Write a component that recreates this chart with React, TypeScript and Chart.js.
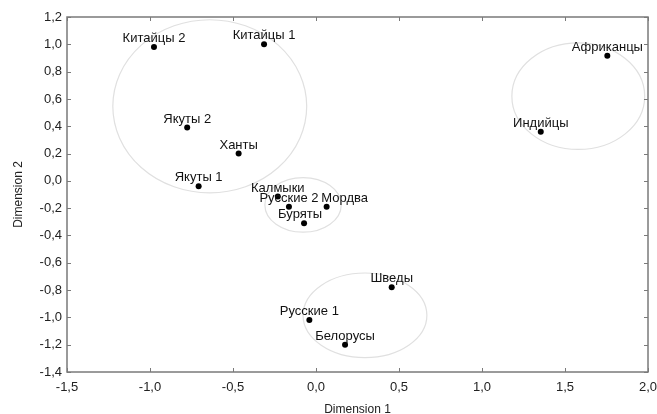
import React, { useEffect, useRef } from "react";
import { Chart, registerables } from "chart.js";

Chart.register(...registerables);

// Point names and coordinates (Dimension 1, Dimension 2)
const names = [
  "Китайцы 2", "Китайцы 1", "Якуты 2", "Ханты", "Якуты 1",
  "Калмыки", "Русские 2", "Мордва", "Буряты",
  "Африканцы", "Индийцы",
  "Шведы", "Русские 1", "Белорусы",
];
const dim1 = [-0.976, -0.313, -0.776, -0.466, -0.707, -0.23, -0.163, 0.064, -0.072, 1.755, 1.354, 0.456, -0.04, 0.175];
const dim2 = [0.98, 1.0, 0.39, 0.2, -0.04, -0.115, -0.19, -0.19, -0.31, 0.916, 0.36, -0.78, -1.02, -1.2];

// Cluster ellipses (centre and radii in data units)
const ellCx = [-0.64, 1.58, -0.078, 0.295];
const ellCy = [0.546, 0.62, -0.176, -0.985];
const ellRx = [0.584, 0.4, 0.23, 0.373];
const ellRy = [0.634, 0.39, 0.2, 0.31];

// Axis ranges / tick steps
const xMin = -1.5, xMax = 2.0, xStep = 0.5;
const yMin = -1.4, yMax = 1.2, yStep = 0.2;
const xTitle = "Dimension 1";
const yTitle = "Dimension 2";

const FONT = "Arial, 'Liberation Sans', sans-serif";
const LABEL_NUDGE: Record<string, number> = { "Мордва": 18, "Буряты": -4 };

const fmt = (v: number) => {
  const n = Math.abs(v) < 1e-9 ? 0 : v;
  return n.toFixed(1).replace(".", ",");
};

const decorPlugin = {
  id: "decor",
  beforeDatasetsDraw(chart: any) {
    const { ctx, chartArea, scales } = chart;
    const xs = scales.x, ys = scales.y;
    ctx.save();
    // ellipses
    ctx.strokeStyle = "#e0e0e0";
    ctx.lineWidth = 1.2;
    for (let i = 0; i < ellCx.length; i++) {
      const cx = xs.getPixelForValue(ellCx[i]);
      const cy = ys.getPixelForValue(ellCy[i]);
      const rx = Math.abs(xs.getPixelForValue(ellCx[i] + ellRx[i]) - cx);
      const ry = Math.abs(ys.getPixelForValue(ellCy[i] + ellRy[i]) - cy);
      ctx.beginPath();
      ctx.ellipse(cx, cy, rx, ry, 0, 0, Math.PI * 2);
      ctx.stroke();
    }
    // frame
    ctx.strokeStyle = "#7a7a7a";
    ctx.lineWidth = 1.5;
    const { left, right, top, bottom } = chartArea;
    ctx.strokeRect(left, top, right - left, bottom - top);
    // inward ticks
    ctx.lineWidth = 1;
    const tl = 4;
    ctx.beginPath();
    xs.ticks.forEach((t: any) => {
      const px = Math.round(xs.getPixelForValue(t.value)) + 0.5;
      ctx.moveTo(px, bottom);
      ctx.lineTo(px, bottom - tl);
      ctx.moveTo(px, top);
      ctx.lineTo(px, top + tl);
    });
    ys.ticks.forEach((t: any) => {
      const py = Math.round(ys.getPixelForValue(t.value)) + 0.5;
      ctx.moveTo(left, py);
      ctx.lineTo(left + tl, py);
      ctx.moveTo(right, py);
      ctx.lineTo(right - tl, py);
    });
    ctx.stroke();
    ctx.restore();
  },
  afterDatasetsDraw(chart: any) {
    const { ctx, scales } = chart;
    ctx.save();
    ctx.fillStyle = "#111";
    ctx.font = `13px ${FONT}`;
    ctx.textBaseline = "alphabetic";
    ctx.textAlign = "center";
    names.forEach((n, i) => {
      const px = scales.x.getPixelForValue(dim1[i]);
      const py = scales.y.getPixelForValue(dim2[i]);
      ctx.fillText(n, px + (LABEL_NUDGE[n] || 0), py - 5);
    });
    ctx.restore();
  },
};

export default function App() {
  const ref = useRef<HTMLCanvasElement>(null);
  useEffect(() => {
    if (!ref.current) return;
    const chart = new Chart(ref.current, {
      type: "scatter",
      data: {
        datasets: [
          {
            data: names.map((_, i) => ({ x: dim1[i], y: dim2[i] })),
            backgroundColor: "#000",
            borderWidth: 0,
            pointRadius: 3,
          },
        ],
      },
      options: {
        animation: false,
        responsive: false,
        layout: { padding: { left: 0, right: 9, top: 17, bottom: 0 } },
        plugins: { legend: { display: false }, tooltip: { enabled: false } },
        scales: {
          x: {
            type: "linear",
            min: xMin,
            max: xMax,
            grid: { display: false, drawTicks: false },
            border: { display: false },
            ticks: {
              stepSize: xStep,
              padding: 8,
              color: "#222",
              font: { size: 13, family: FONT },
              callback: (v: any) => fmt(Number(v)),
            },
            title: {
              display: true,
              text: xTitle,
              color: "#222",
              font: { size: 12, family: FONT },
              padding: { top: 6, bottom: -3 },
            },
            afterFit: (s: any) => {
              s.height = 42;
              s.paddingLeft = 0;
              s.paddingRight = 0;
            },
          },
          y: {
            type: "linear",
            min: yMin,
            max: yMax,
            grid: { display: false, drawTicks: false },
            border: { display: false },
            ticks: {
              stepSize: yStep,
              padding: 5,
              color: "#222",
              font: { size: 13, family: FONT },
              callback: (v: any) => fmt(Number(v)),
            },
            title: {
              display: true,
              text: yTitle,
              color: "#222",
              font: { size: 12, family: FONT },
              padding: { top: 11, bottom: 0 },
            },
            afterFit: (s: any) => {
              s.width = 67;
              s.paddingTop = 0;
              s.paddingBottom = 0;
            },
          },
        },
      },
      plugins: [decorPlugin],
    });
    return () => chart.destroy();
  }, []);
  return (
    <div style={{ position: "absolute", left: 0, top: 0, width: 657, height: 414, background: "#fff" }}>
      <canvas ref={ref} width={657} height={414} style={{ width: 657, height: 414 }} />
    </div>
  );
}
